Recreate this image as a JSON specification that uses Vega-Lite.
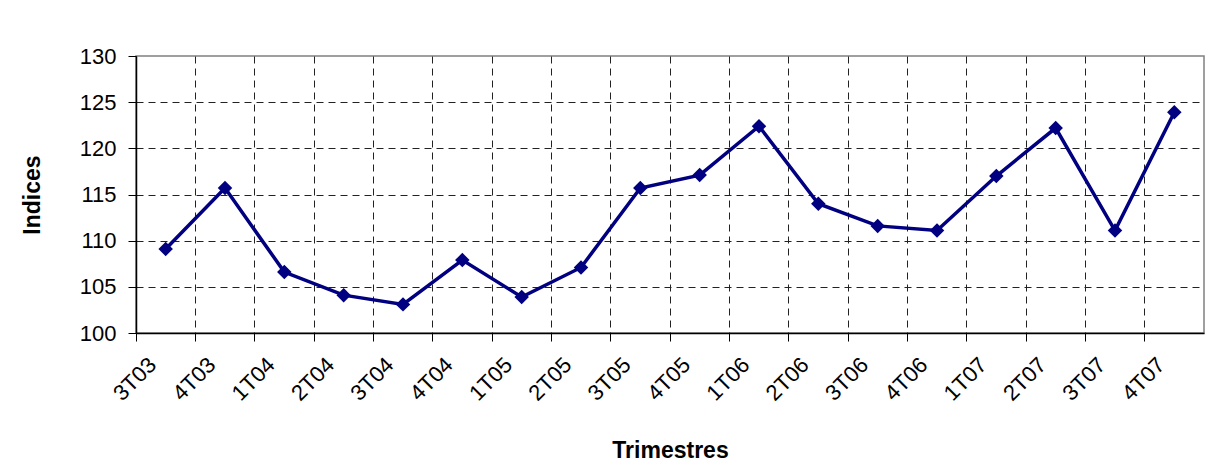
{
  "$schema": "https://vega.github.io/schema/vega-lite/v6.json",
  "width": 1068,
  "height": 277,
  "autosize": {"type": "none"},
  "padding": {"left": 136, "top": 56, "right": 7, "bottom": 135},
  "background": "white",
  "config": {
    "font": "Liberation Sans",
    "view": {"stroke": "#808080", "strokeWidth": 1.5}
  },
  "data": {
    "values": [
      {"t": "3T03", "v": 109.1},
      {"t": "4T03", "v": 115.7},
      {"t": "1T04", "v": 106.6},
      {"t": "2T04", "v": 104.1},
      {"t": "3T04", "v": 103.1},
      {"t": "4T04", "v": 107.9},
      {"t": "1T05", "v": 103.9},
      {"t": "2T05", "v": 107.1},
      {"t": "3T05", "v": 115.7},
      {"t": "4T05", "v": 117.1},
      {"t": "1T06", "v": 122.4},
      {"t": "2T06", "v": 114.0},
      {"t": "3T06", "v": 111.6},
      {"t": "4T06", "v": 111.1},
      {"t": "1T07", "v": 117.0},
      {"t": "2T07", "v": 122.2},
      {"t": "3T07", "v": 111.1},
      {"t": "4T07", "v": 123.9}
    ]
  },
  "encoding": {
    "x": {
      "field": "t",
      "type": "ordinal",
      "sort": null,
      "scale": {"type": "band", "paddingInner": 0, "paddingOuter": 0},
      "axis": {
        "bandPosition": 0,
        "title": "Trimestres",
        "titleFontSize": 23,
        "titleFontWeight": "bold",
        "titleColor": "black",
        "titlePadding": 35,
        "labelAngle": -45,
        "labelAlign": "right",
        "labelBaseline": "middle",
        "labelFontSize": 22,
        "labelColor": "black",
        "labelOffset": -13,
        "labelPadding": 20,
        "grid": true,
        "gridColor": "#222222",
        "gridDash": [7, 5],
        "gridWidth": 1,
        "ticks": true,
        "tickSize": 8,
        "tickColor": "black",
        "domainColor": "black",
        "domainWidth": 1.5
      }
    },
    "y": {
      "field": "v",
      "type": "quantitative",
      "scale": {"domain": [100, 130], "nice": false, "zero": false},
      "axis": {
        "values": [100, 105, 110, 115, 120, 125, 130],
        "title": "Indices",
        "titleFontSize": 23,
        "titleFontWeight": "bold",
        "titleColor": "black",
        "titleX": -92,
        "labelFontSize": 22,
        "labelColor": "black",
        "labelPadding": 12,
        "grid": true,
        "gridColor": "#222222",
        "gridDash": [7, 5],
        "gridWidth": 1,
        "gridOpacity": {"condition": {"test": "datum.value >= 130 || datum.value <= 100", "value": 0}, "value": 1},
        "tickSize": 8,
        "tickColor": "black",
        "domainColor": "black",
        "domainWidth": 1.5
      }
    }
  },
  "layer": [
    {"mark": {"type": "line", "color": "#000080", "strokeWidth": 3.5}},
    {"mark": {"type": "point", "shape": "diamond", "filled": true, "size": 210, "color": "#000080", "opacity": 1}}
  ]
}
